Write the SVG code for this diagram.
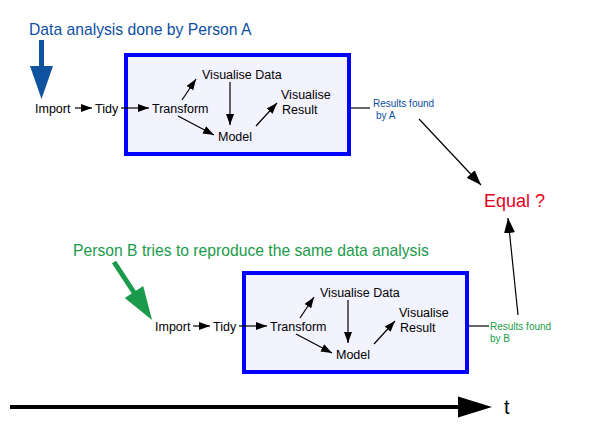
<svg xmlns="http://www.w3.org/2000/svg" width="592" height="444" viewBox="0 0 592 444">
<style>
text{font-family:"Liberation Sans",Arial,sans-serif}
.n{font-size:12.5px;fill:#000}
.box{fill:#f3f2ff;stroke:#0000ff;stroke-width:4}
.c{fill:none;stroke:#000;stroke-width:1.2}
.s{marker-end:url(#sm)}
.l{marker-end:url(#lg)}
.ra{font-size:10px;fill:#0d4fa3}
.rb{font-size:10px;fill:#1a9b4b}
</style>
<defs>
<marker id="sm" markerUnits="userSpaceOnUse" markerWidth="12" markerHeight="10" viewBox="0 0 12 10" refX="11" refY="5" orient="auto"><path d="M0,1 L11,5 L0,9 Z" fill="#000"/></marker>
<marker id="lg" markerUnits="userSpaceOnUse" markerWidth="16" markerHeight="12" viewBox="0 0 16 12" refX="15" refY="6" orient="auto"><path d="M0,0.5 L15,6 L0,11.5 Z" fill="#000"/></marker>
</defs>
<rect width="592" height="444" fill="#fff"/>
<g id="titleA"><text x="29" y="35" font-size="15.7" fill="#0d4fa3">Data analysis done by Person A</text></g>
<g id="arrowA"><rect x="39" y="40" width="5" height="28" fill="#0f52a0"/><path d="M30,66 L53,66 L41.5,99 Z" fill="#0f52a0"/></g>
<g id="titleB"><text x="73" y="256" font-size="15.7" fill="#1a9b4b">Person B tries to reproduce the same data analysis</text></g>
<g id="arrowB"><line x1="114" y1="262" x2="135" y2="294" stroke="#1a9b4b" stroke-width="5"/><path d="M124.8,298 L143.2,286 L152,320 Z" fill="#1a9b4b"/></g>
<g id="boxA"><rect class="box" x="126" y="55" width="223" height="99"/></g>
<g id="boxB"><rect class="box" x="244" y="273" width="223" height="99"/></g>
<g id="connectors">
<path class="c s" d="M75,108 L92,108"/>
<path class="c s" d="M121,108 L149,108"/>
<path class="c s" d="M182,100 L196,79"/>
<path class="c s" d="M230,82 L230,125"/>
<path class="c s" d="M178,116 L214,135"/>
<path class="c s" d="M256,126 L277,103"/>
<path class="c" d="M351,108 L370,108"/>
<path class="c l" d="M419,119 L481,185"/>
<path class="c s" d="M193,326 L210,326"/>
<path class="c s" d="M239,326 L267,326"/>
<path class="c s" d="M300,318 L314,297"/>
<path class="c s" d="M348,300 L348,343"/>
<path class="c s" d="M296,334 L332,353"/>
<path class="c s" d="M374,344 L395,321"/>
<path class="c" d="M469,326 L489,326"/>
<path class="c l" d="M518,315 L508,218"/>
<path d="M10,407 L460,407" stroke="#000" stroke-width="4"/>
<path d="M458,396.5 L492,407 L458,417.5 Z" fill="#000"/>
</g>
<g id="importA"><text class="n" x="35" y="112.5">Import</text></g>
<g id="tidyA"><text class="n" x="95" y="112.5">Tidy</text></g>
<g id="transformA"><text class="n" x="152" y="112.5">Transform</text></g>
<g id="visdataA"><text class="n" x="202" y="79">Visualise Data</text></g>
<g id="modelA"><text class="n" x="218" y="140.5">Model</text></g>
<g id="visresA"><text class="n" x="281" y="98.5">Visualise</text><text class="n" x="282" y="114">Result</text></g>
<g id="resultsA"><text class="ra" x="373" y="106.5">Results found</text><text class="ra" x="376" y="119">by A</text></g>
<g id="importB"><text class="n" x="155" y="330.5">Import</text></g>
<g id="tidyB"><text class="n" x="213" y="330.5">Tidy</text></g>
<g id="transformB"><text class="n" x="270" y="330.5">Transform</text></g>
<g id="visdataB"><text class="n" x="320" y="297">Visualise Data</text></g>
<g id="modelB"><text class="n" x="336" y="358.5">Model</text></g>
<g id="visresB"><text class="n" x="399" y="316.5">Visualise</text><text class="n" x="400" y="332">Result</text></g>
<g id="resultsB"><text class="rb" x="490" y="329.5">Results found</text><text class="rb" x="490" y="342">by B</text></g>
<g id="equal"><text x="484" y="207" font-size="18" fill="#e8001c">Equal ?</text></g>
<g id="t"><text x="504" y="414" font-size="20" fill="#000">t</text></g>
</svg>
